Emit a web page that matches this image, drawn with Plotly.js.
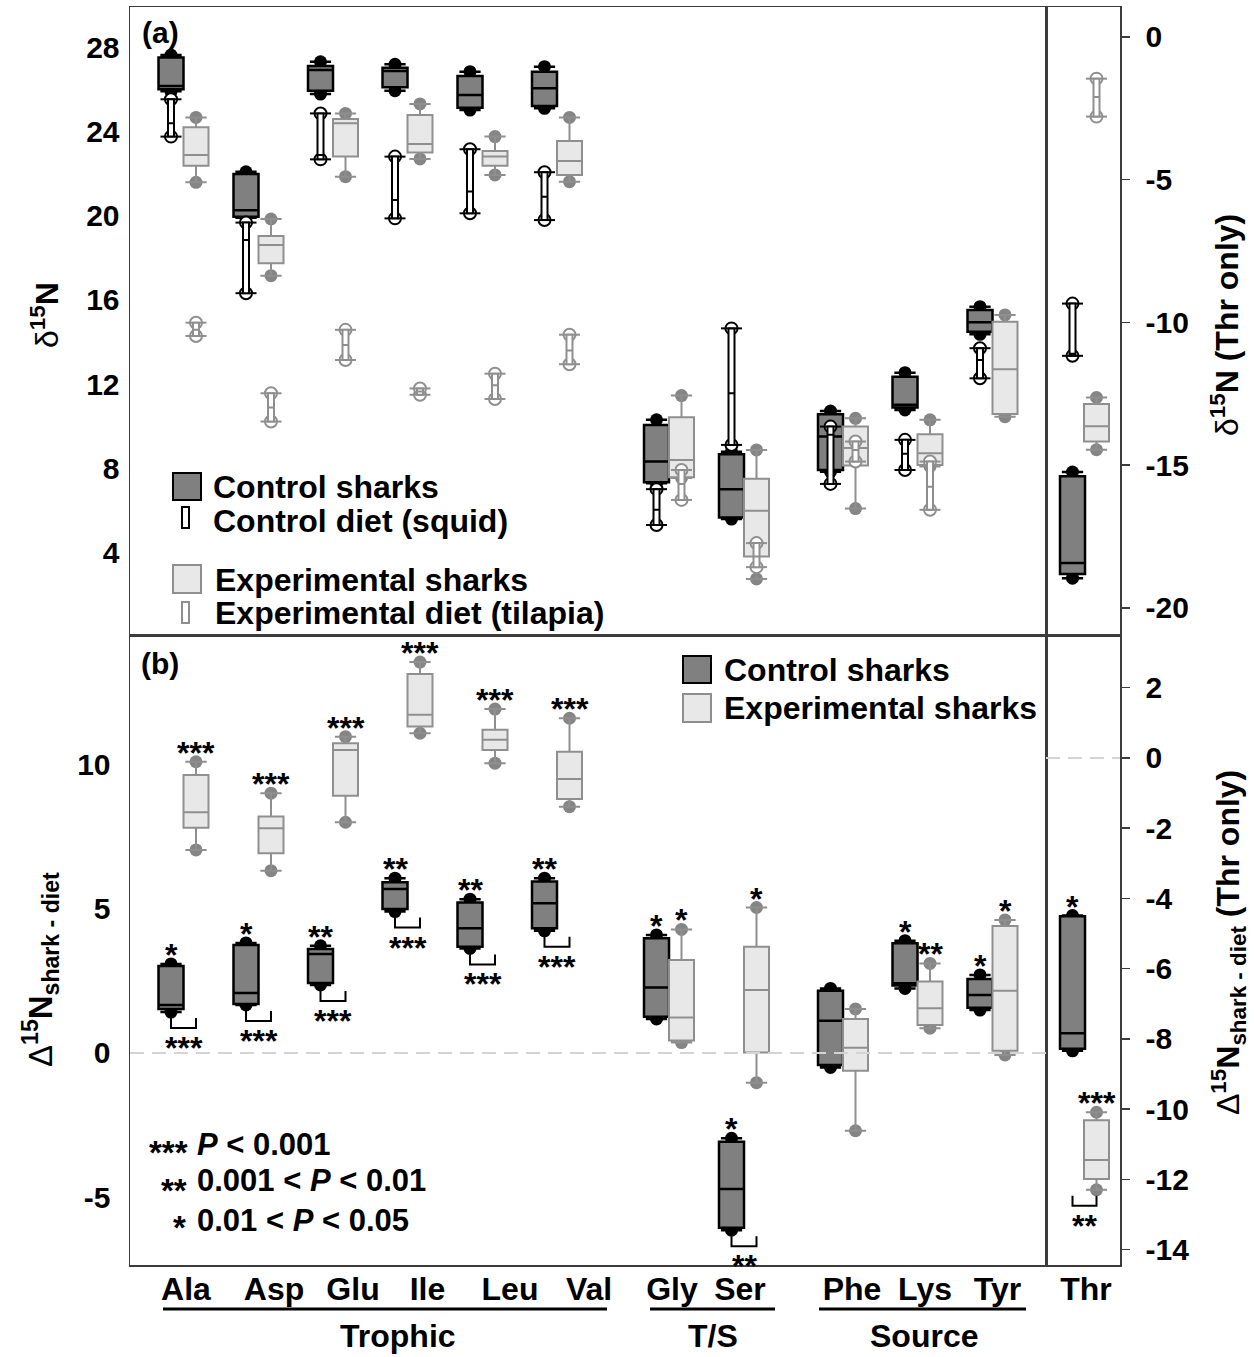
<!DOCTYPE html>
<html><head><meta charset="utf-8">
<script src="https://cdn.plot.ly/plotly-3.0.1.min.js"></script>
<style>html,body{margin:0;padding:0;background:#fff}</style>
</head><body>
<div id="chart" style="width:1254px;height:1357px"></div>
<script>
// ---------------- DATA ----------------
const aminoAcids = ['Ala','Asp','Glu','Ile','Leu','Val','Gly','Ser','Phe','Lys','Tyr'];
const thrLabel = ['Thr'];
const groupNames = ['Trophic','T/S','Source'];

// Panel (a): δ15N (left axis), Ala..Tyr
const ctrlSharkA_min = [25.90, 19.90, 25.77, 25.93, 25.01, 25.09, 7.30, 5.60, 7.85, 10.78, 14.37];
const ctrlSharkA_q1  = [26.00, 19.95, 25.93, 26.09, 25.12, 25.20, 7.35, 5.67, 7.93, 10.89, 14.49];
const ctrlSharkA_med = [26.15, 20.25, 26.91, 26.86, 25.72, 26.04, 8.33, 7.02, 9.52, 11.02, 14.94];
const ctrlSharkA_q3  = [27.50, 21.98, 27.10, 27.02, 26.62, 26.83, 10.07, 8.68, 10.58, 12.36, 15.52];
const ctrlSharkA_max = [27.62, 22.08, 27.30, 27.18, 26.83, 27.07, 10.31, 8.80, 10.73, 12.55, 15.68];

const ctrlDietA_min = [23.75, 16.32, 22.67, 19.87, 20.11, 19.79, 5.32, 9.12, 7.27, 7.93, 12.28];
const ctrlDietA_med = [24.38, 18.84, 22.88, 20.74, 21.14, 20.90, 6.04, 11.57, 9.60, 8.70, 13.15];
const ctrlDietA_max = [25.52, 19.67, 24.85, 22.80, 23.15, 22.06, 7.02, 14.65, 9.99, 9.36, 13.71];

const expSharkA_min = [21.58, 17.15, 21.85, 22.69, 21.93, 21.61, 7.55, 2.76, 6.10, 8.10, 10.46];
const expSharkA_q1  = [22.37, 17.74, 22.80, 22.99, 22.37, 21.93, 7.59, 3.82, 8.14, 8.17, 10.59];
const expSharkA_med = [22.88, 18.61, 24.38, 23.40, 22.80, 22.59, 8.40, 6.00, 8.97, 8.73, 12.71];
const expSharkA_q3  = [24.19, 19.03, 24.58, 24.77, 23.07, 23.54, 10.43, 7.51, 9.99, 9.63, 14.97];
const expSharkA_max = [24.66, 19.84, 24.85, 25.30, 23.75, 24.66, 11.46, 8.88, 10.38, 10.31, 15.29];

const expDietA_min = [14.29, 10.23, 13.15, 11.50, 11.30, 12.95, 6.51, 3.32, 8.33, 6.04, null];
const expDietA_med = [14.58, 10.90, 13.86, 11.65, 11.95, 13.60, 7.27, 3.82, 8.88, 7.14, null];
const expDietA_max = [14.92, 11.57, 14.58, 11.80, 12.50, 14.35, 7.93, 4.46, 9.28, 8.33, null];

// Panel (a) Thr (right axis): [min, q1, median, q3, max]
const thrCtrlSharkA = [-18.96, -18.81, -18.43, -15.39, -15.24];
const thrExpSharkA  = [-14.46, -14.17, -13.64, -12.86, -12.63];
// diets: [min, median, max]
const thrCtrlDietA  = [-11.17, -11.10, -9.34];
const thrExpDietA   = [-2.79, -2.10, -1.46];

// Panel (b): Δ15N shark - diet (left axis), Ala..Tyr
const ctrlSharkB_min = [1.42, 1.67, 2.36, 4.91, 3.63, 4.24, 1.18, -6.15, -0.50, 2.24, 1.49];
const ctrlSharkB_q1  = [1.53, 1.70, 2.43, 5.00, 3.69, 4.33, 1.26, -6.07, -0.42, 2.34, 1.57];
const ctrlSharkB_med = [1.67, 2.08, 3.44, 5.69, 4.33, 5.20, 2.27, -4.72, 1.12, 2.42, 2.01];
const ctrlSharkB_q3  = [3.02, 3.75, 3.61, 5.93, 5.22, 5.95, 3.98, -3.08, 2.16, 3.81, 2.57];
const ctrlSharkB_max = [3.09, 3.82, 3.72, 6.07, 5.34, 6.07, 4.10, -2.96, 2.24, 3.90, 2.71];

const expSharkB_min = [7.05, 6.33, 8.01, 11.10, 10.06, 8.55, 0.36, -1.03, -2.70, 0.86, -0.07];
const expSharkB_q1  = [7.82, 6.93, 8.93, 11.33, 10.52, 8.82, 0.43, 0.02, -0.62, 0.97, 0.08];
const expSharkB_med = [8.36, 7.80, 10.52, 11.74, 10.87, 9.51, 1.23, 2.19, 0.18, 1.55, 2.16];
const expSharkB_q3  = [9.65, 8.21, 10.75, 13.16, 11.22, 10.46, 3.23, 3.69, 1.18, 2.48, 4.41];
const expSharkB_max = [10.11, 9.02, 10.98, 13.57, 11.94, 11.62, 4.29, 5.05, 1.53, 3.11, 4.62];

// Panel (b) Thr (right axis): [min, q1, median, q3, max]
const thrCtrlSharkB = [-8.34, -8.28, -7.84, -4.51, -4.49];
const thrExpSharkB  = [-12.30, -11.99, -11.45, -10.32, -10.09];

// significance marks (panel b)
const ctrlSigB = ['*','*','**','**','**','**','*','*','','*','*'];
const expSigB  = ['***','***','***','***','***','***','*','*','','**','*'];
const pairSigB = ['***','***','***','***','***','***','','**','','',''];
const thrSigB  = ['*','***','**'];   // control, experimental, pair

const pLegendStars = ['***','**','*'];
const pLegendText = ['<i>P</i> < 0.001','0.001 < <i>P</i> < 0.01','0.01 < <i>P</i> < 0.05'];

// tick values / labels
const tickValsA = [4, 8, 12, 16, 20, 24, 28];
const tickValsAThr = [0, -5, -10, -15, -20];
const tickValsB = [-5, 0, 5, 10];
const tickValsBThr = [2, 0, -2, -4, -6, -8, -10, -12, -14];
const asText = arr => arr.map(v => String(v));   // plain hyphen minus, as in the original

// ---------------- LAYOUT CONSTANTS ----------------
const W = 1254, H = 1357;
const FONT = 'Liberation Sans, Arial, Helvetica, sans-serif';
const FS = 32;
const px = v => v / W;
const py = v => 1 - v / H;

const xMainDom = [px(130), px(1046)];
const xThrDom  = [px(1046), px(1120)];
const yADom = [py(635), py(7)];
const yBDom = [py(1265), py(635)];
const rangeA = [0.1, 29.9], rangeAThr = [-20.95, 1.05];
const rangeB = [-7.36, 14.51], rangeBThr = [-14.44, 3.5];
const pxPerUnitB = 630 / (rangeB[1] - rangeB[0]);
const pxPerUnitBThr = 630 / (rangeBThr[1] - rangeBThr[0]);

// category centres along the x axis (x axis units = pixels of the frame)
const catCenter = [183.5, 258.5, 333, 407.5, 482.5, 557, 669, 744, 843, 917.5, 992.5];
const labelPos  = [186, 274, 353, 427.5, 510, 589, 672, 740, 852, 925, 997.5];
const thrCenter = 1084.5, thrLabelPos = 1086;
const pairOff = 12.5;
const ctrlPos = catCenter.map(c => c - pairOff);
const expPos  = catCenter.map(c => c + pairOff);
const thrCtrlPos = [thrCenter - 12], thrExpPos = [thrCenter + 12];

const CTRL_FILL = '#808080', EXP_FILL = '#e8e8e8', EXP_LINE = '#8f8f8f', EXP_DOT = '#858585';
const ctrlSharkStyle = {fill: CTRL_FILL, line: '#000000', lw: 2.5, width: 25, ww: 0.85};
const expSharkStyle  = {fill: EXP_FILL, line: EXP_LINE, lw: 2, width: 25, ww: 0.85};
const ctrlDietStyle  = {fill: '#ffffff', line: '#000000', lw: 2, width: 6, ww: 1};
const expDietStyle   = {fill: '#ffffff', line: EXP_LINE, lw: 2, width: 6, ww: 1};

// ---------------- TRACE BUILDERS ----------------
function boxes(pos, mn, q1, md, q3, mx, st, xa, ya) {
  const k = pos.map((p, i) => i).filter(i => md[i] !== null && md[i] !== undefined);
  return {type: 'box', orientation: 'v', x: k.map(i => pos[i]),
    lowerfence: k.map(i => mn[i]), q1: k.map(i => q1[i]), median: k.map(i => md[i]),
    q3: k.map(i => q3[i]), upperfence: k.map(i => mx[i]),
    width: st.width, whiskerwidth: st.ww, fillcolor: st.fill,
    line: {color: st.line, width: st.lw}, boxpoints: false,
    xaxis: xa, yaxis: ya, showlegend: false, hoverinfo: 'skip'};
}
function endDots(pos, mn, mx, color, xa, ya) {
  const xs = [], ys = [];
  pos.forEach((p, i) => { if (mn[i] !== null) { xs.push(p, p); ys.push(mn[i], mx[i]); } });
  return {type: 'scatter', mode: 'markers', x: xs, y: ys,
    marker: {color: color, size: 13, line: {width: 0}},
    xaxis: xa, yaxis: ya, showlegend: false, hoverinfo: 'skip'};
}
function dietEnds(pos, mn, mx, lineColor, xa, ya) {
  const xs = [], ys = [];
  pos.forEach((p, i) => { if (mn[i] !== null) { xs.push(p, p); ys.push(mn[i], mx[i]); } });
  return [
    {type: 'scatter', mode: 'markers', x: xs, y: ys,
      marker: {color: '#ffffff', size: 12, line: {color: lineColor, width: 2}},
      xaxis: xa, yaxis: ya, showlegend: false, hoverinfo: 'skip'},
    {type: 'scatter', mode: 'markers', x: xs, y: ys,
      marker: {symbol: 'line-ew', size: 15, color: lineColor, line: {color: lineColor, width: 2}},
      xaxis: xa, yaxis: ya, showlegend: false, hoverinfo: 'skip'}
  ];
}
const col = (arr, j) => [arr[j]];

const traces = [];
// ---- Panel (a), main ----
traces.push(endDots(ctrlPos, ctrlSharkA_min, ctrlSharkA_max, '#000000', 'x', 'y'));
traces.push(endDots(expPos, expSharkA_min, expSharkA_max, EXP_DOT, 'x', 'y'));
traces.push(boxes(ctrlPos, ctrlSharkA_min, ctrlSharkA_q1, ctrlSharkA_med, ctrlSharkA_q3, ctrlSharkA_max, ctrlSharkStyle, 'x', 'y5'));
traces.push(boxes(expPos, expSharkA_min, expSharkA_q1, expSharkA_med, expSharkA_q3, expSharkA_max, expSharkStyle, 'x', 'y5'));
traces.push(...dietEnds(ctrlPos, ctrlDietA_min, ctrlDietA_max, '#000000', 'x', 'y6'));
traces.push(...dietEnds(expPos, expDietA_min, expDietA_max, EXP_LINE, 'x', 'y6'));
traces.push(boxes(ctrlPos, ctrlDietA_min, ctrlDietA_min, ctrlDietA_med, ctrlDietA_max, ctrlDietA_max, ctrlDietStyle, 'x', 'y7'));
traces.push(boxes(expPos, expDietA_min, expDietA_min, expDietA_med, expDietA_max, expDietA_max, expDietStyle, 'x', 'y7'));

// ---- Panel (a), Thr ----
traces.push(endDots(thrCtrlPos, col(thrCtrlSharkA,0), col(thrCtrlSharkA,4), '#000000', 'x2', 'y2'));
traces.push(endDots(thrExpPos, col(thrExpSharkA,0), col(thrExpSharkA,4), EXP_DOT, 'x2', 'y2'));
traces.push(boxes(thrCtrlPos, col(thrCtrlSharkA,0), col(thrCtrlSharkA,1), col(thrCtrlSharkA,2), col(thrCtrlSharkA,3), col(thrCtrlSharkA,4), ctrlSharkStyle, 'x2', 'y8'));
traces.push(boxes(thrExpPos, col(thrExpSharkA,0), col(thrExpSharkA,1), col(thrExpSharkA,2), col(thrExpSharkA,3), col(thrExpSharkA,4), expSharkStyle, 'x2', 'y8'));
traces.push(...dietEnds(thrCtrlPos, col(thrCtrlDietA,0), col(thrCtrlDietA,2), '#000000', 'x2', 'y9'));
traces.push(...dietEnds(thrExpPos, col(thrExpDietA,0), col(thrExpDietA,2), EXP_LINE, 'x2', 'y9'));
traces.push(boxes(thrCtrlPos, col(thrCtrlDietA,0), col(thrCtrlDietA,0), col(thrCtrlDietA,1), col(thrCtrlDietA,2), col(thrCtrlDietA,2), ctrlDietStyle, 'x2', 'y10'));
traces.push(boxes(thrExpPos, col(thrExpDietA,0), col(thrExpDietA,0), col(thrExpDietA,1), col(thrExpDietA,2), col(thrExpDietA,2), expDietStyle, 'x2', 'y10'));

// ---- Panel (b), main ----
traces.push(endDots(ctrlPos, ctrlSharkB_min, ctrlSharkB_max, '#000000', 'x3', 'y3'));
traces.push(endDots(expPos, expSharkB_min, expSharkB_max, EXP_DOT, 'x3', 'y3'));
traces.push(boxes(ctrlPos, ctrlSharkB_min, ctrlSharkB_q1, ctrlSharkB_med, ctrlSharkB_q3, ctrlSharkB_max, ctrlSharkStyle, 'x3', 'y11'));
traces.push(boxes(expPos, expSharkB_min, expSharkB_q1, expSharkB_med, expSharkB_q3, expSharkB_max, expSharkStyle, 'x3', 'y11'));

// ---- Panel (b), Thr ----
traces.push(endDots(thrCtrlPos, col(thrCtrlSharkB,0), col(thrCtrlSharkB,4), '#000000', 'x4', 'y4'));
traces.push(endDots(thrExpPos, col(thrExpSharkB,0), col(thrExpSharkB,4), EXP_DOT, 'x4', 'y4'));
traces.push(boxes(thrCtrlPos, col(thrCtrlSharkB,0), col(thrCtrlSharkB,1), col(thrCtrlSharkB,2), col(thrCtrlSharkB,3), col(thrCtrlSharkB,4), ctrlSharkStyle, 'x4', 'y12'));
traces.push(boxes(thrExpPos, col(thrExpSharkB,0), col(thrExpSharkB,1), col(thrExpSharkB,2), col(thrExpSharkB,3), col(thrExpSharkB,4), expSharkStyle, 'x4', 'y12'));

// ---------------- ANNOTATIONS & SHAPES ----------------
const ann = [], shapes = [];
const boldFont = (size) => ({family: FONT, size: size || FS, color: '#000000', weight: 'bold'});
function paperText(text, xPx, yPx, o) {
  ann.push(Object.assign({xref: 'paper', yref: 'paper', x: px(xPx), y: py(yPx), text: text,
    showarrow: false, font: boldFont(), xanchor: 'center', yanchor: 'middle'}, o || {}));
}
function star(xa, ya, x, y, text, shift) {
  if (!text) return;
  ann.push({xref: xa, yref: ya, x: x, y: y, text: text, showarrow: false,
    font: boldFont(32), xanchor: 'center', yanchor: 'middle', yshift: shift});
}
function bracket(xa, ya, x0, x1, yLow, ppu, text) {
  if (!text) return;
  const top = yLow - 6 / ppu, bot = yLow - 16 / ppu;
  shapes.push({type: 'path', xref: xa, yref: ya,
    path: `M${x0},${top} L${x0},${bot} L${x1},${bot} L${x1},${top}`,
    line: {color: '#000000', width: 2}});
  star(xa, ya, (x0 + x1) / 2, yLow, text, -36);
}

// significance, panel (b)
aminoAcids.forEach((a, i) => {
  star('x3', 'y3', ctrlPos[i], ctrlSharkB_max[i], ctrlSigB[i], 9);
  star('x3', 'y3', expPos[i], expSharkB_max[i], expSigB[i], 9);
  bracket('x3', 'y3', ctrlPos[i], expPos[i], Math.min(ctrlSharkB_min[i], expSharkB_min[i]), pxPerUnitB, pairSigB[i]);
});
star('x4', 'y4', thrCtrlPos[0], thrCtrlSharkB[4], thrSigB[0], 9);
star('x4', 'y4', thrExpPos[0], thrExpSharkB[4], thrSigB[1], 9);
bracket('x4', 'y4', thrCtrlPos[0], thrExpPos[0], Math.min(thrCtrlSharkB[0], thrExpSharkB[0]), pxPerUnitBThr, thrSigB[2]);

// zero reference lines
shapes.push({type: 'line', xref: 'x3 domain', x0: 0, x1: 1, yref: 'y3', y0: 0, y1: 0,
  line: {color: '#d4d4d4', width: 2, dash: '14px,8px'}, layer: 'above'});
shapes.push({type: 'line', xref: 'x4 domain', x0: 0, x1: 1, yref: 'y4', y0: 0, y1: 0,
  line: {color: '#d4d4d4', width: 2, dash: '14px,8px'}, layer: 'above'});

// panel labels
paperText('(a)', 160, 32, {font: boldFont(30)});
paperText('(b)', 160, 663, {font: boldFont(30)});

// legend (a)
function rectPx(x0, y0, x1, y1, fill, line) {
  shapes.push({type: 'rect', xref: 'paper', yref: 'paper', x0: px(x0), x1: px(x1), y0: py(y0), y1: py(y1),
    fillcolor: fill, line: {color: line, width: 2}});
}
rectPx(173, 473, 201, 500, CTRL_FILL, '#000000');
rectPx(182, 507, 189, 528, '#ffffff', '#000000');
rectPx(173, 565, 201, 593, EXP_FILL, EXP_LINE);
rectPx(182, 602, 189, 623, '#ffffff', EXP_LINE);
paperText('Control sharks', 211, 487, {xanchor: 'left'});
paperText('Control diet (squid)', 211, 521, {xanchor: 'left'});
paperText('Experimental sharks', 213, 580, {xanchor: 'left'});
paperText('Experimental diet (tilapia)', 213, 613, {xanchor: 'left'});

// legend (b)
rectPx(683, 656, 711, 683, CTRL_FILL, '#000000');
rectPx(683, 694, 711, 722, EXP_FILL, EXP_LINE);
paperText('Control sharks', 722, 670, {xanchor: 'left'});
paperText('Experimental sharks', 722, 708, {xanchor: 'left'});

// p-value key
const pStarRight = [190, 189, 188], pStarY = [1152, 1190, 1227], pTextY = [1144, 1180, 1220];
pLegendStars.forEach((s, i) => {
  paperText(s, pStarRight[i], pStarY[i], {xanchor: 'right', font: boldFont(33)});
  paperText(pLegendText[i], 195, pTextY[i], {xanchor: 'left', font: boldFont(31)});
});

// axis titles
const thin = s => `<span style="font-weight:normal">${s}</span>`;
paperText(thin('δ') + '<sup>15</sup>N', 45, 315, {textangle: -90, font: boldFont(32)});
paperText(thin('δ') + '<sup>15</sup>N (Thr only)', 1225, 325, {textangle: -90, font: boldFont(32)});
paperText(thin('Δ') + '<sup>15</sup>N<sub>shark - diet</sub>', 40, 970, {textangle: -90, font: boldFont(33)});
paperText(thin('Δ') + '<sup>15</sup>N<sub>shark - diet</sub> (Thr only)', 1228, 943, {textangle: -90, font: boldFont(32)});

// group brackets under category labels
const groupSpan = [[163, 607], [650, 775], [819, 1026]];
const groupLabelX = [398, 713, 924];
groupNames.forEach((g, i) => {
  shapes.push({type: 'line', xref: 'paper', yref: 'paper', x0: px(groupSpan[i][0]), x1: px(groupSpan[i][1]),
    y0: py(1309), y1: py(1309), line: {color: '#000000', width: 3}});
  paperText(g, groupLabelX[i], 1336, {font: boldFont(32)});
});

// ---------------- AXES ----------------
const tickFont = boldFont(30);
const frame = {showline: true, mirror: true, linecolor: '#3c3c3c', linewidth: 1.5,
  showgrid: false, zeroline: false, fixedrange: true};
const overlay = (base, anchor, range) => ({overlaying: base, anchor: anchor, range: range, visible: false, fixedrange: true});

const layout = {
  width: W, height: H, margin: {l: 0, r: 0, t: 0, b: 0},
  paper_bgcolor: '#ffffff', plot_bgcolor: '#ffffff', showlegend: false, boxmode: 'overlay',
  font: {family: FONT},
  xaxis:  Object.assign({}, frame, {domain: xMainDom, range: [130, 1046], anchor: 'y', showticklabels: false, ticks: ''}),
  yaxis:  Object.assign({}, frame, {domain: yADom, range: rangeA, anchor: 'x', tickvals: tickValsA,
            ticktext: asText(tickValsA), ticks: '', tickfont: tickFont, ticklabelstandoff: 3}),
  xaxis2: Object.assign({}, frame, {domain: xThrDom, range: [1046, 1120], anchor: 'y2', showticklabels: false, ticks: ''}),
  yaxis2: Object.assign({}, frame, {domain: yADom, range: rangeAThr, anchor: 'x2', side: 'right',
            tickvals: tickValsAThr, ticktext: asText(tickValsAThr), ticks: 'outside', ticklen: 8, tickwidth: 1.5,
            tickcolor: '#3c3c3c', tickfont: tickFont, ticklabelstandoff: 10}),
  xaxis3: Object.assign({}, frame, {domain: xMainDom, range: [130, 1046], anchor: 'y3', tickvals: labelPos,
            ticktext: aminoAcids, ticks: '', tickfont: boldFont(32), ticklabelstandoff: -5}),
  yaxis3: Object.assign({}, frame, {domain: yBDom, range: rangeB, anchor: 'x3', tickvals: tickValsB,
            ticktext: asText(tickValsB), ticks: '', tickfont: tickFont, ticklabelstandoff: 12}),
  xaxis4: Object.assign({}, frame, {domain: xThrDom, range: [1046, 1120], anchor: 'y4', tickvals: [thrLabelPos],
            ticktext: thrLabel, ticks: '', tickfont: boldFont(32), ticklabelstandoff: -5}),
  yaxis4: Object.assign({}, frame, {domain: yBDom, range: rangeBThr, anchor: 'x4', side: 'right',
            tickvals: tickValsBThr, ticktext: asText(tickValsBThr), ticks: 'outside', ticklen: 8, tickwidth: 1.5,
            tickcolor: '#3c3c3c', tickfont: tickFont, ticklabelstandoff: 10}),
  yaxis5: overlay('y', 'x', rangeA),
  yaxis6: overlay('y', 'x', rangeA),
  yaxis7: overlay('y', 'x', rangeA),
  yaxis8: overlay('y2', 'x2', rangeAThr),
  yaxis9: overlay('y2', 'x2', rangeAThr),
  yaxis10: overlay('y2', 'x2', rangeAThr),
  yaxis11: overlay('y3', 'x3', rangeB),
  yaxis12: overlay('y4', 'x4', rangeBThr),
  annotations: ann,
  shapes: shapes
};

Plotly.newPlot('chart', traces, layout, {staticPlot: true, displayModeBar: false});
</script>
</body></html>
